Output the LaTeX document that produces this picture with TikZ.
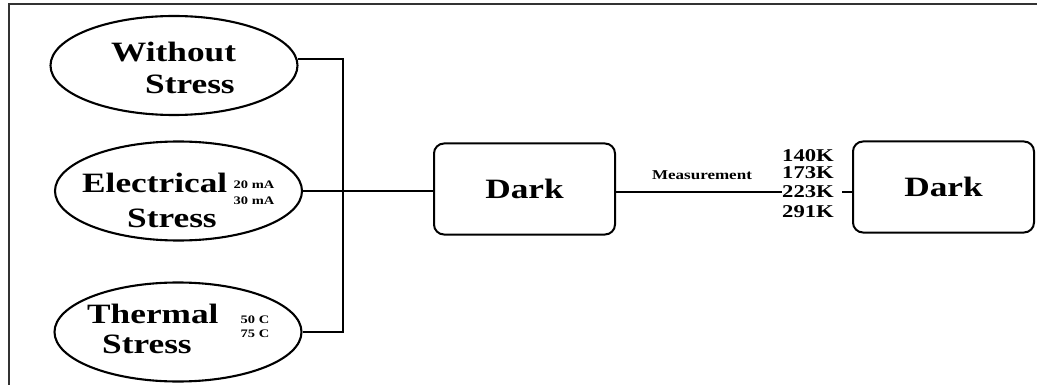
\documentclass[tikz,border=0pt]{standalone}
\usepackage{fontspec}
\setmainfont{Liberation Serif}[FakeStretch=1.26]
\usetikzlibrary{shapes.geometric,positioning}

\begin{document}
\begin{tikzpicture}[x=1pt,y=-1pt,
  wire/.style={line width=2pt},
  thinwire/.style={line width=1.5pt},
  oval/.style={ellipse,draw,line width=2.1pt,minimum width=247pt,minimum height=99pt,inner sep=0pt},
  darkbox/.style={rectangle,rounded corners=10pt,draw,line width=2pt,minimum width=181pt,minimum height=91pt,font=\fontsize{28}{30}\selectfont\bfseries},
  bigtext/.style={inner sep=0pt,anchor=base west,font=\fontsize{28}{30}\selectfont\bfseries},
  unitlbl/.style={inner sep=0pt,font=\fontsize{11.5}{12}\selectfont\bfseries},
  templbl/.style={inner sep=0pt,font=\fontsize{18}{18}\selectfont\bfseries},
  measlbl/.style={inner sep=0pt,font=\fontsize{13.5}{15}\selectfont\bfseries}]
\useasboundingbox (0,0) rectangle (1037,385);
\draw[line width=1.3pt,black!80] (9,385) -- (9,4) -- (1037,4);

% stress ovals
\node[oval] (ws) at (174,65.5) {};
\node[oval] (es) at (178.5,191) {};
\node[oval] (ts) at (178,332) {};

\node[bigtext] (ws1) at (111,62) {Without};
\node[bigtext] (ws2) at (145,94) {Stress};
\node[bigtext] (es1) at (82,193) {Electrical};
\node[bigtext] (es2) at (127,228) {Stress};
\node[bigtext] (ts1) at (87,323) {Thermal};
\node[bigtext] (ts2) at (102,353) {Stress};

\node[unitlbl] (ma1) at (254,185) {20 mA};
\node[unitlbl] (ma2) at (254,201) {30 mA};
\node[unitlbl] (dc1) at (255,320) {50 C};
\node[unitlbl] (dc2) at (255,334) {75 C};

% boxes
\node[darkbox] (d1) at (524.5,189) {Dark};
\node[darkbox] (d2) at (943.5,187) {Dark};

\node[measlbl] (meas) at (702,175) {Measurement};
\foreach \t/\y in {140/156,173/173,223/192,291/212} {
\node[templbl] (t\t) at (808,\y) {\t K};
}

\coordinate (busend) at (343,332);
\draw[wire] (ws.3) -| (busend) -- (ts.east);
\draw[wire] (es.east) -- (es.east -| d1.west);
\draw[thinwire] (d1.east |- t223) -- (t223.west);
\draw[wire] ([xshift=8pt]t223.east) -- (t223.east -| d2.west);
\end{tikzpicture}
\end{document}
